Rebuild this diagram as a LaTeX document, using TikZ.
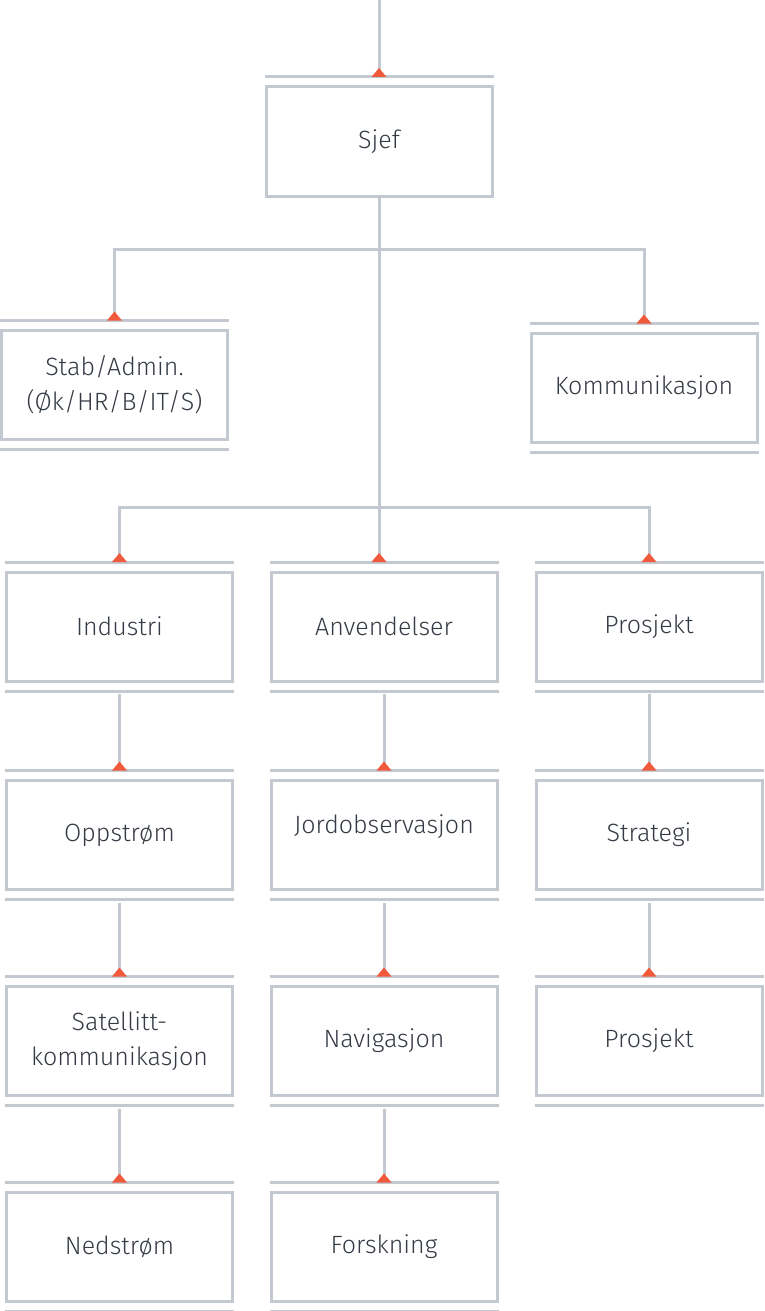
\documentclass[tikz,border=0pt]{standalone}
\usepackage{fontspec}
\setmainfont{Fira Sans}[UprightFont={* Light}]
\usepackage{xcolor}
\usetikzlibrary{positioning}
\definecolor{railgray}{HTML}{C4C8D1}
\definecolor{tipred}{HTML}{F05A3C}
\definecolor{inkgray}{HTML}{353B44}
\begin{document}
\begin{tikzpicture}[x=1pt, y=-1pt,
        box/.style={draw=railgray, line width=3pt, minimum width=226pt, minimum height=109pt, inner sep=0pt, align=center, text=inkgray, font=\fontsize{25}{35}\selectfont},
        rail/.style={draw=railgray, line width=3pt},
        link/.style={draw=railgray, line width=3pt},
        redtip/.pic={\fill[tipred] (-7.5,0) -- (0,-9) -- (7.5,0) -- cycle;}]
    \useasboundingbox (0,0) rectangle (764,1311);
    % Top
    \node[box] (sjef) at (379,141.5) {Sjef};
    \node[box] (stab) at (114.5,385) {Stab/Admin.\\(Øk/HR/B/IT/S)};
    \node[box] (komm) at (644,388) {Kommunikasjon};

    % Columns
    \node[box] (ind) at (119.5,626.5) {Industri};
    \node[box] (anv) at (384,626.5) {Anvendelser};
    \node[box] (pro) at (649,626.5) {Prosjekt};
    \node[box] (opp) at (119.5,835) {Oppstrøm};
    \node[box] (jord) at (384,835) {\raisebox{22pt}{Jordobservasjon}};
    \node[box] (strat) at (649,835) {Strategi};
    \node[box] (sat) at (119.5,1041) {Satellitt-\\kommunikasjon};
    \node[box] (nav) at (384,1041) {Navigasjon};
    \node[box] (prosj) at (649,1041) {Prosjekt};
    \node[box] (ned) at (119.5,1247) {Nedstrøm};
    \node[box] (forsk) at (384,1247) {Forskning};

    % Rails above and below the boxes
    \foreach \n in {sjef,stab,komm,ind,anv,pro,opp,jord,strat,sat,nav,prosj,ned,forsk} {
        \draw[rail] ([yshift=8.5pt]\n.north west) -- ([yshift=8.5pt]\n.north east);
        \coordinate (\n-in) at ([yshift=8.5pt]\n.north);
    }
    \foreach \n in {stab,komm,ind,anv,pro,opp,jord,strat,sat,nav,prosj,ned,forsk}
        \draw[rail] ([yshift=-8.5pt]\n.south west) -- ([yshift=-8.5pt]\n.south east);

    % Connectors
    \coordinate (top) at (379,0);
    \coordinate (bar1) at (379,249);
    \coordinate (bar2) at (379,507);
    \coordinate (anv-drop) at (sjef.south |- anv-in);
    \draw[link] (top) -- (sjef-in);
    \draw[link] (stab-in) |- (bar1) -| (komm-in);
    \draw[link] (sjef.south) -- (anv-drop);
    \draw[link] (ind-in) |- (bar2) -| (pro-in);
    \draw[link] ([yshift=-11.5pt]ind.south) -- (opp-in);
    \draw[link] ([yshift=-11.5pt]opp.south) -- (sat-in);
    \draw[link] ([yshift=-11.5pt]sat.south) -- (ned-in);
    \draw[link] ([yshift=-11.5pt]anv.south) -- (jord-in);
    \draw[link] ([yshift=-11.5pt]jord.south) -- (nav-in);
    \draw[link] ([yshift=-11.5pt]nav.south) -- (forsk-in);
    \draw[link] ([yshift=-11.5pt]pro.south) -- (strat-in);
    \draw[link] ([yshift=-11.5pt]strat.south) -- (prosj-in);

    % Tips
    \foreach \t in {sjef-in,stab-in,komm-in,ind-in,anv-drop,pro-in,opp-in,jord-in,strat-in,sat-in,nav-in,prosj-in,ned-in,forsk-in}
        \pic at (\t) {redtip};
\end{tikzpicture}
\end{document}
